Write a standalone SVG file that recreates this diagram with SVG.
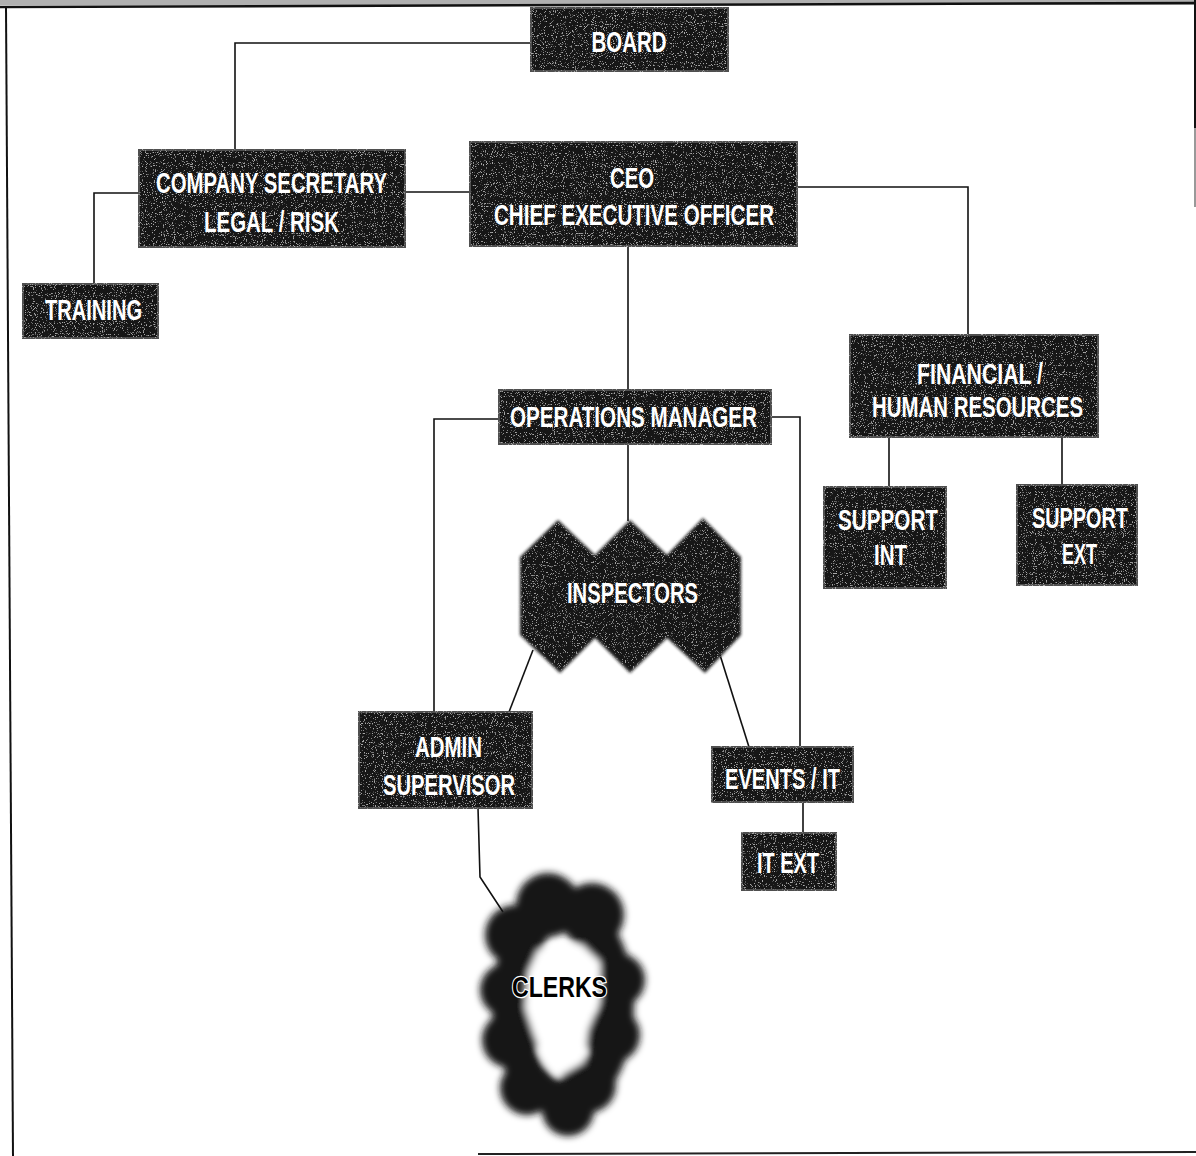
<svg xmlns="http://www.w3.org/2000/svg" width="1196" height="1156" viewBox="0 0 1196 1156">
<style>
.box{fill:#161616;stroke:#505050;stroke-width:2;filter:url(#grain)}
.t{font-family:"Liberation Sans",Arial,sans-serif;font-weight:bold;font-size:29px;fill:#ffffff;text-anchor:middle}
.dk{fill:#000;stroke:#fff;stroke-width:2.5;paint-order:stroke}
.c{fill:none;stroke:#111;stroke-width:1.6}
</style>
<defs>
<filter id="grain" x="-3%" y="-5%" width="106%" height="110%">
<feTurbulence type="fractalNoise" baseFrequency="0.9" numOctaves="2" seed="7" result="noise"/>
<feColorMatrix in="noise" type="matrix" values="0 0 0 0 0.4 0 0 0 0 0.4 0 0 0 0 0.4 0 0 0 8 -4.9" result="dots"/>
<feComposite in="dots" in2="SourceGraphic" operator="in" result="din"/>
<feMerge><feMergeNode in="SourceGraphic"/><feMergeNode in="din"/></feMerge>
</filter>
<filter id="fuzzy" x="-10%" y="-10%" width="120%" height="120%">
<feGaussianBlur stdDeviation="1.8" result="b"/>
<feTurbulence type="fractalNoise" baseFrequency="0.9" numOctaves="2" seed="3" result="noise"/>
<feColorMatrix in="noise" type="matrix" values="0 0 0 0 0.35 0 0 0 0 0.35 0 0 0 0 0.35 0 0 0 8 -4.9" result="dots"/>
<feComposite in="dots" in2="b" operator="in" result="din"/>
<feMerge><feMergeNode in="b"/><feMergeNode in="din"/></feMerge>
</filter>
<filter id="fuzzy2" x="-25%" y="-20%" width="150%" height="140%">
<feGaussianBlur stdDeviation="3.5"/>
</filter>
</defs>
<rect width="1196" height="1156" fill="#fff"/>
<g id="frame">
<rect x="0" y="0" width="1196" height="5" fill="#b0b0b0"/>
<line x1="0" y1="7" x2="1196" y2="3" stroke="#111" stroke-width="2.5"/>
<line x1="6" y1="7" x2="13" y2="1156" stroke="#111" stroke-width="2"/>
<line x1="478" y1="1154" x2="1196" y2="1152" stroke="#222" stroke-width="2"/>
<line x1="1195" y1="0" x2="1195" y2="128" stroke="#111" stroke-width="2"/>
<line x1="1195" y1="128" x2="1195" y2="207" stroke="#999" stroke-width="2"/>
</g>
<g id="connectors">
<path class="c" d="M531,43 H235 V150"/>
<path class="c" d="M405,192 H470"/>
<path class="c" d="M797,187 H968 V335"/>
<path class="c" d="M139,193 H94 V284"/>
<path class="c" d="M628,246 V390"/>
<path class="c" d="M499,419 H434 V712"/>
<path class="c" d="M771,417 H800 V747"/>
<path class="c" d="M628,444 V521"/>
<path class="c" d="M533,650 L509,712"/>
<path class="c" d="M720,655 L749,747"/>
<path class="c" d="M803,802 V833"/>
<path class="c" d="M889,437 V487"/>
<path class="c" d="M1062,437 V485"/>
<path class="c" d="M478,808 L480,877 L503,912"/>
</g>
<g id="board">
<rect class="box" x="531" y="8" width="197" height="63"/>
<text class="t" x="629" y="52" textLength="75" lengthAdjust="spacingAndGlyphs">BOARD</text>
</g>
<g id="company-secretary">
<rect class="box" x="139" y="150" width="266" height="97"/>
<text class="t" x="271.5" y="193" textLength="231" lengthAdjust="spacingAndGlyphs">COMPANY SECRETARY</text>
<text class="t" x="271.5" y="232" textLength="135" lengthAdjust="spacingAndGlyphs">LEGAL / RISK</text>
</g>
<g id="ceo">
<rect class="box" x="470" y="142" width="327" height="104"/>
<text class="t" x="632" y="188" textLength="44" lengthAdjust="spacingAndGlyphs">CEO</text>
<text class="t" x="634" y="225" textLength="280" lengthAdjust="spacingAndGlyphs">CHIEF EXECUTIVE OFFICER</text>
</g>
<g id="training">
<rect class="box" x="23" y="284" width="135" height="54"/>
<text class="t" x="93.5" y="320" textLength="97" lengthAdjust="spacingAndGlyphs">TRAINING</text>
</g>
<g id="operations-manager">
<rect class="box" x="499" y="390" width="272" height="54"/>
<text class="t" x="633.5" y="427" textLength="247" lengthAdjust="spacingAndGlyphs">OPERATIONS MANAGER</text>
</g>
<g id="financial-hr">
<rect class="box" x="850" y="335" width="248" height="102"/>
<text class="t" x="980" y="384" textLength="126" lengthAdjust="spacingAndGlyphs">FINANCIAL /</text>
<text class="t" x="977.5" y="417" textLength="211" lengthAdjust="spacingAndGlyphs">HUMAN RESOURCES</text>
</g>
<g id="support-int">
<rect class="box" x="824" y="487" width="122" height="101"/>
<text class="t" x="888" y="530" textLength="100" lengthAdjust="spacingAndGlyphs">SUPPORT</text>
<text class="t" x="890.5" y="565" textLength="33" lengthAdjust="spacingAndGlyphs">INT</text>
</g>
<g id="support-ext">
<rect class="box" x="1017" y="485" width="120" height="100"/>
<text class="t" x="1080" y="528" textLength="96" lengthAdjust="spacingAndGlyphs">SUPPORT</text>
<text class="t" x="1079.5" y="564" textLength="35" lengthAdjust="spacingAndGlyphs">EXT</text>
</g>
<g id="inspectors">
<polygon fill="#161616" filter="url(#fuzzy)" points="520,557 558,520 595,555 630,520 667,555 703,518 741,557 741,635 705,673 667,638 630,673 595,638 560,673 520,635"/>
<text class="t" x="632.5" y="603" textLength="131" lengthAdjust="spacingAndGlyphs">INSPECTORS</text>
</g>
<g id="admin-supervisor">
<rect class="box" x="359" y="712" width="173" height="96"/>
<text class="t" x="448.5" y="757" textLength="67" lengthAdjust="spacingAndGlyphs">ADMIN</text>
<text class="t" x="449" y="795" textLength="132" lengthAdjust="spacingAndGlyphs">SUPERVISOR</text>
</g>
<g id="events-it">
<rect class="box" x="712" y="747" width="141" height="55"/>
<text class="t" x="782.5" y="789" textLength="115" lengthAdjust="spacingAndGlyphs">EVENTS / IT</text>
</g>
<g id="it-ext">
<rect class="box" x="742" y="833" width="94" height="57"/>
<text class="t" x="788" y="873" textLength="62" lengthAdjust="spacingAndGlyphs">IT EXT</text>
</g>
<g id="clerks">
<g filter="url(#fuzzy2)" fill="#161616">
<ellipse cx="563" cy="1005" rx="53" ry="93" fill="none" stroke="#161616" stroke-width="36"/>
<circle cx="548" cy="905" r="32"/>
<circle cx="592" cy="915" r="32"/>
<circle cx="515" cy="935" r="30"/>
<circle cx="618" cy="980" r="27"/>
<circle cx="612" cy="1035" r="28"/>
<circle cx="588" cy="1085" r="28"/>
<circle cx="568" cy="1110" r="26"/>
<circle cx="527" cy="1088" r="27"/>
<circle cx="510" cy="1040" r="28"/>
<circle cx="507" cy="990" r="27"/>
<polygon fill="#fff" points="538,950 582,945 600,962 600,1002 588,1030 584,1062 560,1076 545,1062 534,1035 525,1008 528,972"/>
</g>
<text class="t dk" x="559.5" y="997" textLength="95" lengthAdjust="spacingAndGlyphs">CLERKS</text>
</g>
</svg>
